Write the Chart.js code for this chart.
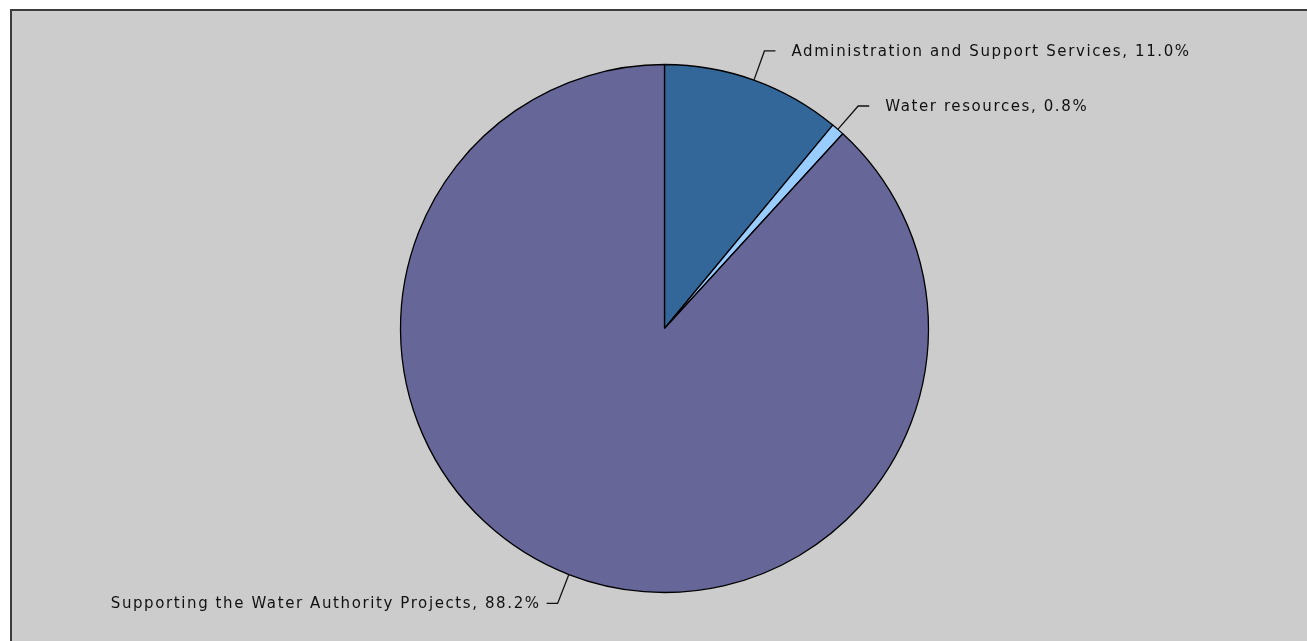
<!DOCTYPE html>
<html>
<head>
<meta charset="utf-8">
<title>Expenditure breakdown</title>
<script src="https://cdn.jsdelivr.net/npm/chart.js@4.4.1/dist/chart.umd.min.js"></script>
<style>
    html, body { margin: 0; padding: 0; background: #ffffff; overflow: hidden; }
    #frame {
        position: fixed;
        left: 10px;
        top: 9px;
        right: -20px;
        bottom: -20px;
        border-left: 2px solid #3c3c3c;
        border-top: 2px solid #3c3c3c;
        background: #cccccc;
        overflow: hidden;
    }
    #budgetChart { display: block; }
</style>
</head>
<body>
<div id="frame">
    <canvas id="budgetChart" width="1295" height="630"></canvas>
</div>
<script>
const categories = ['Administration and Support Services', 'Water resources', 'Supporting the Water Authority Projects'];
const shares = [11.0, 0.8, 88.2];
const sliceColors = ['#336699', '#99ccff', '#666699'];

// elbow leader lines with "name, value%" text beside each slice
const sliceLabels = {
    id: 'sliceLabels',
    afterDatasetsDraw(chart) {
        const ctx = chart.ctx;
        const arcs = chart.getDatasetMeta(0).data;
        ctx.save();
        ctx.font = '15px "DejaVu Sans"';
        ctx.letterSpacing = '1.6px';
        ctx.fillStyle = '#111111';
        ctx.strokeStyle = '#111111';
        ctx.lineWidth = 1.3;
        ctx.textBaseline = 'middle';
        arcs.forEach(function(arc, i) {
            const p = arc.getProps(['x', 'y', 'startAngle', 'endAngle', 'outerRadius'], true);
            const mid = (p.startAngle + p.endAngle) / 2;
            const cos = Math.cos(mid), sin = Math.sin(mid);
            const x0 = p.x + p.outerRadius * cos, y0 = p.y + p.outerRadius * sin;
            const x1 = p.x + (p.outerRadius + 31) * cos, y1 = p.y + (p.outerRadius + 31) * sin;
            const right = cos >= 0;
            const x2 = x1 + (right ? 11 : -11);
            ctx.beginPath();
            ctx.moveTo(x0, y0);
            ctx.lineTo(x1, y1);
            ctx.lineTo(x2, y1);
            ctx.stroke();
            const text = categories[i] + ', ' + shares[i].toFixed(1) + '%';
            ctx.textAlign = right ? 'left' : 'right';
            ctx.fillText(text, right ? x2 + 16 : x2 - 6, y1 + 1);
        });
        ctx.restore();
    }
};

new Chart(document.getElementById('budgetChart'), {
    type: 'pie',
    data: {
        labels: categories,
        datasets: [{
            data: shares,
            backgroundColor: sliceColors,
            borderColor: '#000000',
            borderWidth: 1.3
        }]
    },
    options: {
        responsive: false,
        animation: false,
        events: [],
        radius: 264,
        layout: { padding: { left: 10, right: 0, top: 5, bottom: 0 } },
        plugins: {
            legend: { display: false },
            tooltip: { enabled: false }
        }
    },
    plugins: [sliceLabels]
});
</script>
</body>
</html>
